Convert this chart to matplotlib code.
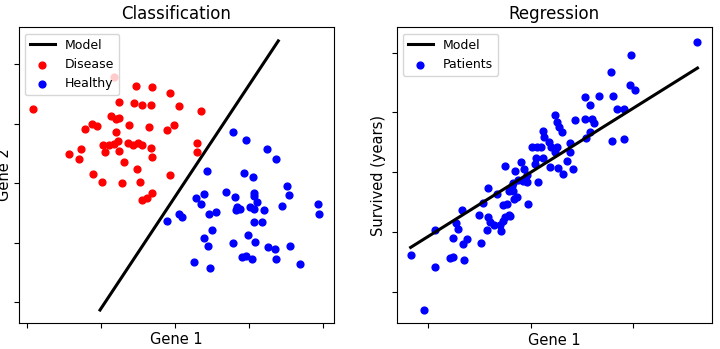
import numpy as np
import matplotlib
matplotlib.use('Agg')
import matplotlib.pyplot as plt

# classification data (gene 1, gene 2)
disease_x = [-0.819, -1.916, -0.522, -0.306, -0.063, -0.748, -0.545, -0.445, -0.320, -0.864,
             -0.792, -0.752, -1.120, -1.045, -1.215, -0.617, -0.343, -0.100, -0.009, -0.792,
             -0.964, -0.887, -0.815, -0.761, -0.626, -0.559, -0.499, -0.445, -0.937, -0.748,
             -0.324, -1.269, -1.430, -1.296, -0.302, -0.684, -0.505, -1.099, -0.059, -0.985,
             -0.711, -0.468, -0.445, -0.378, -0.310, 0.058, 0.351, 0.297, 0.297]
disease_y = [1.792, 1.244, 1.635, 1.624, 1.523, 1.371, 1.345, 1.316, 1.321, 1.131,
             1.081, 1.092, 1.002, 0.963, 0.908, 0.980, 0.941, 0.896, 0.975, 0.862,
             0.639, 0.639, 0.661, 0.706, 0.672, 0.639, 0.672, 0.639, 0.526, 0.548,
             0.588, 0.576, 0.492, 0.408, 0.447, 0.363, 0.235, 0.156, 0.145, 0.027,
             0.005, 0.022, -0.276, -0.242, -0.158, 1.299, 1.210, 0.677, 0.521]

healthy_x = [0.783, 0.962, 1.246, 1.371, 0.432, 0.939, 1.053, -0.108, 0.062, 0.094,
             0.287, 0.399, 0.355, 0.688, 0.810, 0.459, 0.561, 0.827, 0.885, 0.845,
             1.074, 1.066, 1.115, 1.020, 1.066, 1.205, 1.511, 1.547, 1.448, 1.938,
             1.943, 1.070, 1.182, 0.503, 0.391, 0.449, 0.791, 0.985, 1.088, 1.263,
             1.358, 1.552, 0.256, 0.472, 0.904, 0.962, 1.047, 1.367, 1.687]
healthy_y = [0.857, 0.723, 0.571, 0.413, 0.212, 0.173, 0.106, -0.629, -0.511, -0.566,
             -0.252, -0.180, -0.348, -0.146, -0.225, -0.521, -0.482, -0.449, -0.427, -0.393,
             -0.158, -0.208, -0.309, -0.403, -0.427, -0.449, -0.040, -0.202, -0.387, -0.353,
             -0.511, -0.645, -0.645, -0.785, -0.914, -1.049, -1.008, -0.874, -0.987, -1.071,
             -1.099, -1.049, -1.318, -1.424, -1.239, -1.227, -1.277, -1.267, -1.361]

# decision boundary
clf_slope, clf_intercept = 1.88, -0.235
clf_xrange = [-1.008, 1.398]

# regression data (gene 1, survived)
patients_x = [-1.171, -1.041, -0.934, -0.934, -0.787, -0.761, -0.761, -0.729, -0.712, -0.673,
              -0.660, -0.621, -0.646, -0.504, -0.485, -0.470, -0.429, -0.421, -0.412, -0.397,
              -0.358, -0.329, -0.304, -0.285, -0.267, -0.267, -0.236, -0.251, -0.207, -0.185,
              -0.212, -0.170, -0.163, -0.129, -0.248, -0.090, -0.156, -0.065, -0.036, -0.119,
              -0.075, -0.036, -0.176, 0.068, -0.023, -0.202, 0.016, 0.057, 0.105, 0.049,
              0.117, 0.042, 0.188, 0.269, 0.352, 0.416, 0.320, 0.123, 0.130, 0.183,
              0.198, 0.237, 0.261, 0.379, 0.383, 0.237, 0.261, 0.276, 0.302, 0.432,
              0.530, 0.598, 0.618, 0.574, 0.540, 0.527, 0.668, 0.806, 0.583, 0.845,
              0.908, 0.779, 0.979, 0.969, 1.016, 1.627, 0.796, 0.907]
patients_y = [-1.381, -2.299, -1.581, -0.963, -1.431, -1.419, -1.097, -0.841, -0.947, -0.629,
              -1.189, -1.119, -1.456, -0.718, -1.180, -0.518, -0.963, -0.254, -0.738, -0.821,
              -0.871, -0.362, -0.871, -0.975, -0.808, -0.551, -0.534, -0.738, -0.718, -0.229,
              -0.312, -0.307, -0.451, -0.412, 0.105, 0.167, 0.022, 0.055, -0.040, -0.129,
              -0.137, -0.167, -0.184, -0.157, -0.534, -0.725, 0.417, 0.427, 0.427, 0.247,
              0.239, 0.139, 0.093, 0.075, 0.189, 0.055, -0.020, 0.694, 0.598, 0.511,
              0.422, 0.344, 0.422, 0.344, 0.484, 0.957, 0.848, 0.765, 0.678, 0.881,
              0.898, 0.898, 0.818, 0.678, 0.568, 1.262, 1.274, 1.274, 1.124, 1.057,
              1.057, 1.669, 1.958, 1.457, 1.377, 2.180, 0.528, 0.561]

reg_slope, reg_intercept = 1.07, 0.0

fig = plt.figure(figsize=(7.2, 3.49), dpi=100)
ax1 = fig.add_axes([0.0257, 0.0754, 0.4378, 0.8464])
ax2 = fig.add_axes([0.551, 0.0736, 0.4375, 0.848])

# classification
bx = np.array(clf_xrange)
ax1.plot(bx, clf_slope * bx + clf_intercept, color='black', lw=2.2, label='Model')
ax1.scatter(disease_x, disease_y, color='red', s=24, label='Disease')
ax1.scatter(healthy_x, healthy_y, color='blue', s=24, label='Healthy')
ax1.set_xlim(-2.108, 2.146)
ax1.set_ylim(-2.343, 2.622)
ax1.set_xticks([-2, -1, 0, 1, 2])
ax1.set_yticks([-2, -1, 0, 1, 2])
ax1.set_xticklabels([])
ax1.set_yticklabels([])
ax1.set_xlabel('Gene 1', fontsize=10.5, labelpad=0)
ax1.set_ylabel('Gene 2', fontsize=10.5, labelpad=-2)
ax1.set_title('Classification', fontsize=12)
ax1.legend(loc='upper left', fontsize=9)

# regression
px = np.array([min(patients_x), max(patients_x)])
ax2.plot(px, reg_slope * px + reg_intercept, color='black', lw=2.2, label='Model')
ax2.scatter(patients_x, patients_y, color='blue', s=24, label='Patients')
ax2.set_xlim(-1.307, 1.766)
ax2.set_ylim(-2.52, 2.42)
ax2.set_xticks([-1, 0, 1])
ax2.set_yticks([-2, -1, 0, 1, 2])
ax2.set_xticklabels([])
ax2.set_yticklabels([])
ax2.set_xlabel('Gene 1', fontsize=10.5, labelpad=0)
ax2.set_ylabel('Survived (years)', fontsize=10.5, labelpad=1)
ax2.set_title('Regression', fontsize=12)
ax2.legend(loc='upper left', fontsize=9)

fig.savefig('out.png', dpi=100)
